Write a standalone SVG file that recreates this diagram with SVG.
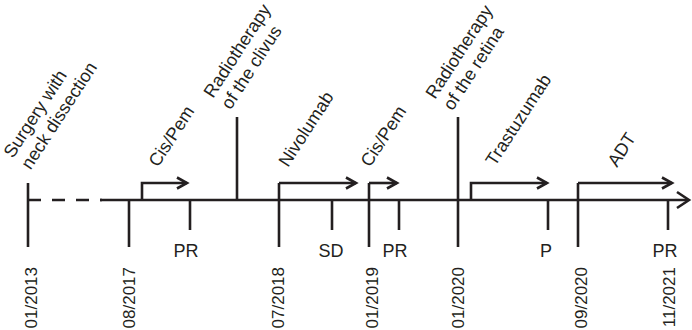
<svg xmlns="http://www.w3.org/2000/svg" width="692" height="330" viewBox="0 0 692 330">
<defs>
<style>
.ln{stroke:#231f20;stroke-width:2.6;fill:none;stroke-linecap:butt}
.hd{stroke:#231f20;stroke-width:2.6;fill:none;stroke-linejoin:miter}
.t{font-family:"Liberation Sans",Arial,sans-serif;font-size:18px;fill:#231f20}
.d{font-family:"Liberation Sans",Arial,sans-serif;font-size:17px;fill:#231f20;text-anchor:end}
.c{text-anchor:middle}
</style>
</defs>
<rect width="692" height="330" fill="#fff"/>
<g id="connectors">
<line class="ln" x1="28" y1="200" x2="102" y2="200" stroke-dasharray="13,11"/>
<line class="ln" x1="100" y1="200" x2="688" y2="200"/>
<polyline class="hd" points="677,192 689,200 677,208"/>
</g>
<g id="n2013">
<line class="ln" x1="28" y1="183" x2="28" y2="247"/>
<text class="t" transform="translate(13,159) rotate(-57)"><tspan x="0" y="0">Surgery with</tspan><tspan x="0" y="21">neck dissection</tspan></text>
<text class="d" transform="translate(37,267) rotate(-90)">01/2013</text>
</g>
<g id="n2017">
<line class="ln" x1="129" y1="200" x2="129" y2="247"/>
<text class="d" transform="translate(135,267) rotate(-90)">08/2017</text>
</g>
<g id="cispem1">
<polyline class="ln" points="142,200 142,183 187,183"/>
<polyline class="hd" points="177,177.5 187,183 177,188.5"/>
<text class="t" transform="translate(158,168) rotate(-57)">Cis/Pem</text>
</g>
<g id="pr1">
<line class="ln" x1="190" y1="200" x2="190" y2="230"/>
<text class="t c" x="186" y="257">PR</text>
</g>
<g id="rt-clivus">
<line class="ln" x1="237" y1="117" x2="237" y2="200"/>
<text class="t" transform="translate(213,99) rotate(-57)"><tspan x="0" y="0">Radiotherapy</tspan><tspan x="0" y="21">of the clivus</tspan></text>
</g>
<g id="n2018">
<line class="ln" x1="279" y1="183" x2="279" y2="247"/>
<polyline class="ln" points="279,183 356,183"/>
<polyline class="hd" points="346,177.5 356,183 346,188.5"/>
<text class="t" transform="translate(288,168) rotate(-57)">Nivolumab</text>
<text class="d" transform="translate(284,267) rotate(-90)">07/2018</text>
</g>
<g id="sd">
<line class="ln" x1="332" y1="200" x2="332" y2="230"/>
<text class="t c" x="331" y="257">SD</text>
</g>
<g id="n2019">
<line class="ln" x1="369" y1="183" x2="369" y2="247"/>
<polyline class="ln" points="369,183 397,183"/>
<polyline class="hd" points="387,177.5 397,183 387,188.5"/>
<text class="t" transform="translate(370,168) rotate(-57)">Cis/Pem</text>
<text class="d" transform="translate(378,267) rotate(-90)">01/2019</text>
</g>
<g id="pr2">
<line class="ln" x1="399" y1="200" x2="399" y2="230"/>
<text class="t c" x="395" y="257">PR</text>
</g>
<g id="n2020">
<line class="ln" x1="458" y1="117" x2="458" y2="247"/>
<text class="t" transform="translate(435,100) rotate(-57)"><tspan x="0" y="0">Radiotherapy</tspan><tspan x="0" y="21">of the retina</tspan></text>
<text class="d" transform="translate(464,267) rotate(-90)">01/2020</text>
</g>
<g id="trastuzumab">
<polyline class="ln" points="471,200 471,183 547,183"/>
<polyline class="hd" points="537,177.5 547,183 537,188.5"/>
<text class="t" transform="translate(495,167) rotate(-57)">Trastuzumab</text>
</g>
<g id="p">
<line class="ln" x1="548" y1="200" x2="548" y2="230"/>
<text class="t c" x="546" y="257">P</text>
</g>
<g id="n2020b">
<line class="ln" x1="578" y1="183" x2="578" y2="247"/>
<polyline class="ln" points="578,183 672,183"/>
<polyline class="hd" points="662,177.5 672,183 662,188.5"/>
<text class="t" transform="translate(617,168) rotate(-57)">ADT</text>
<text class="d" transform="translate(587,267) rotate(-90)">09/2020</text>
</g>
<g id="n2021">
<line class="ln" x1="668" y1="200" x2="668" y2="230"/>
<text class="t c" x="665" y="257">PR</text>
<text class="d" transform="translate(675,267) rotate(-90)">11/2021</text>
</g>
</svg>
